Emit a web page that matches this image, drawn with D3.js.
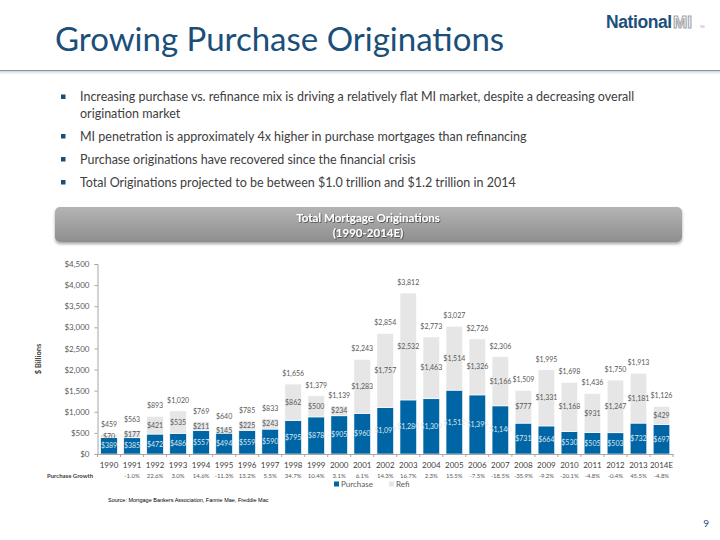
<!DOCTYPE html>
<html><head><meta charset="utf-8">
<script src="https://cdn.jsdelivr.net/npm/d3@7/dist/d3.min.js"></script>
<style>body{margin:0;background:#fff;}svg{display:block;}</style>
</head><body>
<script>
const years = ["1990","1991","1992","1993","1994","1995","1996","1997","1998","1999","2000","2001","2002","2003","2004","2005","2006","2007","2008","2009","2010","2011","2012","2013","2014E"];
const purchase = [389,385,472,486,557,494,559,590,795,878,905,960,1097,1280,1309,1512,1399,1140,731,664,530,505,503,732,697];
const refi = [70,177,421,535,211,145,225,243,862,500,234,1283,1757,2532,1463,1514,1326,1166,777,1331,1168,931,1247,1181,429];
const totals = [459,563,893,1020,769,640,785,833,1656,1379,1139,2243,2854,3812,2773,3027,2726,2306,1509,1995,1698,1436,1750,1913,1126];
const growth = ["","-1.0%","22.6%","3.0%","14.6%","-11.3%","13.2%","5.5%","34.7%","10.4%","3.1%","6.1%","14.3%","16.7%","2.3%","15.5%","-7.5%","-18.5%","-35.9%","-9.2%","-20.1%","-4.8%","-0.4%","45.5%","-4.8%"];
const yTicks = [0,500,1000,1500,2000,2500,3000,3500,4000,4500];
const bullets = [
  ["Increasing purchase vs. refinance mix is driving a relatively flat MI market, despite a decreasing overall","origination market"],
  ["MI penetration is approximately 4x higher in purchase mortgages than refinancing"],
  ["Purchase originations have recovered since the financial crisis"],
  ["Total Originations projected to be between $1.0 trillion and $1.2 trillion in 2014"]
];
const seriesNames = ["Purchase","Refi"];
const colors = {Purchase:"#0065A4", Refi:"#E6E6E6"};

const W=720,H=540;
const svg = d3.select("body").append("svg").attr("width",W).attr("height",H);
const font = "Lato, 'Open Sans', sans-serif";

// defs
const defs = svg.append("defs");
const lg = defs.append("linearGradient").attr("id","ban").attr("x1",0).attr("y1",0).attr("x2",0).attr("y2",1);
lg.append("stop").attr("offset","0%").attr("stop-color","#B4B4B4");
lg.append("stop").attr("offset","100%").attr("stop-color","#8E8E8E");
const flt = defs.append("filter").attr("id","sh").attr("x","-5%").attr("y","-20%").attr("width","110%").attr("height","160%");
flt.append("feDropShadow").attr("dx",0).attr("dy",2).attr("stdDeviation",1.5).attr("flood-color","#000").attr("flood-opacity",0.35);
const tf = defs.append("filter").attr("id","tsh");
tf.append("feDropShadow").attr("dx",0.8).attr("dy",0.8).attr("stdDeviation",0.4).attr("flood-color","#333").attr("flood-opacity",0.8);

// logo
svg.append("text").attr("x",606).attr("y",28).attr("font-family","Arial, 'Liberation Sans', sans-serif").attr("font-weight","bold")
  .attr("font-size",17.5).attr("fill","#1D4F7C").attr("letter-spacing",-0.4).text("National");
svg.append("text").attr("x",673).attr("y",28).attr("font-family","Arial, 'Liberation Sans', sans-serif").attr("font-weight","bold")
  .attr("font-size",17).attr("fill","#fff").attr("stroke","#A7A9AC").attr("stroke-width",1.2).text("MI");
svg.append("text").attr("x",700).attr("y",28).attr("font-family","Arial, sans-serif").attr("font-size",3).attr("fill","#A7A9AC").text("SM");

// title
svg.append("text").attr("x",55).attr("y",51).attr("font-family",font).attr("font-size",33)
  .attr("fill","#1B4F7A").text("Growing Purchase Originations");
// title rule
svg.append("rect").attr("x",0).attr("y",70).attr("width",720).attr("height",1.5).attr("fill","#7F96B2");
svg.append("rect").attr("x",0).attr("y",71.5).attr("width",720).attr("height",2).attr("fill","#E8E8E8");

// bullets
let by = 101;
bullets.forEach((b,i)=>{
  svg.append("rect").attr("x",61).attr("y",by-6.5).attr("width",4.5).attr("height",4.5).attr("fill","#1B4F7A");
  b.forEach((line,j)=>{
    svg.append("text").attr("x",80).attr("y",by).attr("font-family",font).attr("font-size",12.5)
      .attr("fill","#404040").text(line);
    by += (j<b.length-1)?16.5:23;
  });
});

// banner
svg.append("rect").attr("x",55).attr("y",207).attr("width",627).attr("height",35).attr("rx",5)
  .attr("fill","url(#ban)").attr("filter","url(#sh)");
svg.append("text").attr("x",368).attr("y",222).attr("text-anchor","middle").attr("font-family",font).attr("font-weight","bold")
  .attr("font-size",11.5).attr("fill","#fff").attr("filter","url(#tsh)").text("Total Mortgage Originations");
svg.append("text").attr("x",368).attr("y",237).attr("text-anchor","middle").attr("font-family",font).attr("font-weight","bold")
  .attr("font-size",11.5).attr("fill","#fff").attr("filter","url(#tsh)").text("(1990-2014E)");

// chart
const x0=97.5, x1=673, yTop=264, yBot=454;
const x = d3.scaleBand().domain(years).range([x0,x1]).paddingInner(0.28).paddingOuter(0.14);
const y = d3.scaleLinear().domain([0,4500]).range([yBot,yTop]);

const data = years.map((yr,i)=>({year:yr, Purchase:purchase[i], Refi:refi[i], total:totals[i], growth:growth[i]}));
const stack = d3.stack().keys(seriesNames)(data);

const g = svg.append("g");
stack.forEach(s=>{
  g.selectAll(null).data(s).enter().append("rect")
    .attr("x",d=>x(d.data.year)).attr("width",x.bandwidth())
    .attr("y",d=>y(d[1])).attr("height",d=>y(d[0])-y(d[1]))
    .attr("fill",colors[s.key]).attr("stroke","#fff").attr("stroke-width",0.6);
});
const fmt = v=>"$"+d3.format(",")(v);
// purchase labels
g.selectAll(null).data(stack[0]).enter().append("text")
  .attr("x",d=>x(d.data.year)+x.bandwidth()/2).attr("y",d=>(y(d[0])+y(d[1]))/2+2.5)
  .attr("text-anchor","middle").attr("font-family",font).attr("font-size",7).attr("fill","#DCE8F2")
  .text(d=>fmt(d.data.Purchase));
// refi labels
g.selectAll(null).data(stack[1]).enter().append("text")
  .attr("x",d=>x(d.data.year)+x.bandwidth()/2).attr("y",d=>(y(d[0])+y(d[1]))/2+2.5)
  .attr("text-anchor","middle").attr("font-family",font).attr("font-size",7).attr("fill","#595959")
  .text(d=>fmt(d.data.Refi));
// total labels
g.selectAll(null).data(data).enter().append("text")
  .attr("x",d=>x(d.year)+x.bandwidth()/2).attr("y",d=>y(d.Purchase+d.Refi)-8)
  .attr("text-anchor","middle").attr("font-family",font).attr("font-size",7).attr("fill","#595959")
  .text(d=>fmt(d.total));

// y axis
const ya = svg.append("g").attr("transform",`translate(${x0},0)`)
  .call(d3.axisLeft(y).tickValues(yTicks).tickSize(3).tickFormat(d=>"$"+d3.format(",")(d)));
ya.select(".domain").attr("stroke","#A6A6A6");
ya.selectAll(".tick line").attr("stroke","#A6A6A6");
ya.selectAll("text").attr("font-family",font).attr("font-size",8).attr("fill","#595959").attr("x",-8);
svg.append("text").attr("transform","translate(41,359) rotate(-90)").attr("text-anchor","middle")
  .attr("font-family",font).attr("font-weight","bold").attr("font-size",7.5).attr("fill","#404040").text("$ Billions");

// x axis
const xa = svg.append("g").attr("transform",`translate(0,${yBot})`)
  .call(d3.axisBottom(x).tickSize(0).tickPadding(8));
xa.select(".domain").attr("stroke","#A6A6A6");
xa.selectAll("text").attr("font-family",font).attr("font-size",8).attr("fill","#404040");
// category boundary ticks
const bounds = d3.range(years.length+1).map(i=>x0 + i*(x1-x0)/years.length);
svg.append("g").selectAll(null).data(bounds).enter().append("line")
  .attr("x1",d=>d).attr("x2",d=>d).attr("y1",yBot).attr("y2",yBot+3).attr("stroke","#A6A6A6");

// growth row
svg.append("text").attr("x",47).attr("y",478).attr("font-family",font).attr("font-weight","bold")
  .attr("font-size",6).attr("fill","#404040").text("Purchase Growth");
svg.append("g").selectAll(null).data(data).enter().append("text")
  .attr("x",d=>x(d.year)+x.bandwidth()/2).attr("y",478).attr("text-anchor","middle")
  .attr("font-family",font).attr("font-size",6).attr("fill","#595959").text(d=>d.growth);

// legend
const leg = svg.append("g").attr("transform","translate(334,485)");
let lx=0;
seriesNames.forEach(n=>{
  leg.append("rect").attr("x",lx).attr("y",-3.5).attr("width",5).attr("height",5).attr("fill",colors[n]);
  leg.append("text").attr("x",lx+7).attr("y",1.5).attr("font-family",font).attr("font-size",8)
    .attr("fill","#595959").text(n);
  lx += (n==="Purchase")?55:30;
});

// source
svg.append("text").attr("x",108).attr("y",502).attr("font-family","Arial, 'Liberation Sans', sans-serif")
  .attr("font-size",5.5).attr("fill","#000").text("Source: Mortgage Bankers Association, Fannie Mae, Freddie Mac");

// page number
svg.append("text").attr("x",709).attr("y",527).attr("text-anchor","end").attr("font-family",font)
  .attr("font-size",10).attr("fill","#1B4F7A").text("9");
</script>
</body></html>
